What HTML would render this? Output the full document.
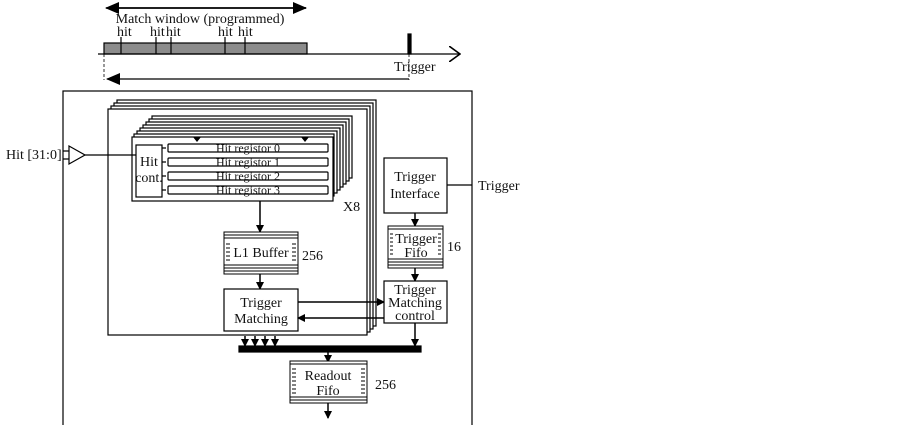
<!DOCTYPE html>
<html><head><meta charset="utf-8"><style>
body{margin:0;background:#fff}
svg{display:block}
text{font-family:"Liberation Serif",serif;fill:#111}
</style></head><body>
<svg width="902" height="425" viewBox="0 0 902 425" xmlns="http://www.w3.org/2000/svg">
<defs>
<marker id="a" markerWidth="8" markerHeight="8" refX="7" refY="4" orient="auto" markerUnits="userSpaceOnUse"><path d="M0,0 L8,4 L0,8 Z" fill="#000"/></marker>
<marker id="big" markerWidth="14" markerHeight="12" refX="13" refY="6" orient="auto" markerUnits="userSpaceOnUse"><path d="M0,0 L14,6 L0,12 Z" fill="#000"/></marker>
<marker id="open" markerWidth="12" markerHeight="16" refX="11" refY="8" orient="auto" markerUnits="userSpaceOnUse"><path d="M0,0 L11,8 L0,16" fill="none" stroke="#000" stroke-width="1.6"/></marker>
</defs>
<g stroke="#000" fill="none" stroke-width="1.2">
<line x1="108" y1="8" x2="306" y2="8" marker-end="url(#big)" stroke-width="1.5"/>
<line x1="306" y1="8" x2="106" y2="8" marker-end="url(#big)" stroke-width="1.5"/>
<rect x="104" y="43" width="203" height="11" fill="#8c8c8c"/>
<line x1="121" y1="37" x2="121" y2="54"/><line x1="156" y1="37" x2="156" y2="54"/><line x1="171" y1="37" x2="171" y2="54"/><line x1="225" y1="37" x2="225" y2="54"/><line x1="245" y1="37" x2="245" y2="54"/>
<line x1="98" y1="54" x2="460" y2="54" marker-end="url(#open)"/>
<rect x="408" y="34" width="3" height="20" fill="#000"/>
<line x1="104" y1="54" x2="104" y2="80" stroke-dasharray="3,2" stroke-width="0.8"/>
<line x1="409" y1="54" x2="409" y2="80" stroke-dasharray="3,2" stroke-width="0.8"/>
<line x1="409" y1="79" x2="107" y2="79" marker-end="url(#big)"/>
<rect x="63" y="91" width="409" height="340"/>
<rect x="117" y="100" width="259" height="226" fill="#fff"/>
<rect x="114" y="103" width="259" height="226" fill="#fff"/>
<rect x="111" y="106" width="259" height="226" fill="#fff"/>
<rect x="108" y="109" width="259" height="226" fill="#fff"/>
<rect x="152" y="116" width="200" height="62" fill="#fff"/>
<rect x="149" y="119" width="200" height="62" fill="#fff"/>
<rect x="146" y="122" width="200" height="62" fill="#fff"/>
<rect x="143" y="125" width="200" height="62" fill="#fff"/>
<rect x="140" y="128" width="200" height="62" fill="#fff"/>
<rect x="137" y="131" width="200" height="62" fill="#fff"/>
<rect x="134" y="134" width="200" height="62" fill="#fff"/>
<rect x="132" y="137" width="201" height="64" fill="#fff"/>
<rect x="136" y="145" width="26" height="52"/>
<rect x="168" y="144" width="160" height="8" rx="1"/>
<rect x="168" y="158" width="160" height="8" rx="1"/>
<rect x="168" y="172" width="160" height="8" rx="1"/>
<rect x="168" y="186" width="160" height="8" rx="1"/>
<path d="M162,148 h4 M162,162 h4 M162,176 h4 M162,190 h4"/>
<path d="M69,146 L85,155 L69,164 Z" fill="#fff"/>
<path d="M63,151 h6 M63,159 h6"/>
<line x1="85" y1="155" x2="136" y2="155"/>
<line x1="260" y1="201" x2="260" y2="232" marker-end="url(#a)" stroke-width="1.5"/>
<line x1="260" y1="274" x2="260" y2="289" marker-end="url(#a)" stroke-width="1.5"/>
<rect x="224" y="289" width="74" height="42" fill="#fff"/>
<line x1="298" y1="302" x2="384" y2="302" marker-end="url(#a)" stroke-width="1.5"/>
<line x1="384" y1="318" x2="298" y2="318" marker-end="url(#a)" stroke-width="1.5"/>
<rect x="384" y="158" width="63" height="55" fill="#fff"/>
<line x1="447" y1="185" x2="472" y2="185"/>
<line x1="415" y1="213" x2="415" y2="226" marker-end="url(#a)" stroke-width="1.5"/>
<line x1="415" y1="268" x2="415" y2="281" marker-end="url(#a)" stroke-width="1.5"/>
<rect x="384" y="281" width="63" height="42" fill="#fff"/>
<line x1="415" y1="323" x2="415" y2="346" marker-end="url(#a)" stroke-width="1.5"/>
<rect x="239" y="346" width="182" height="6" fill="#000"/>
<line x1="245" y1="336" x2="245" y2="346" marker-end="url(#a)" stroke-width="1.5"/>
<line x1="255" y1="336" x2="255" y2="346" marker-end="url(#a)" stroke-width="1.5"/>
<line x1="265" y1="336" x2="265" y2="346" marker-end="url(#a)" stroke-width="1.5"/>
<line x1="275" y1="336" x2="275" y2="346" marker-end="url(#a)" stroke-width="1.5"/>
<line x1="328" y1="352" x2="328" y2="362" marker-end="url(#a)" stroke-width="1.5"/>
<line x1="328" y1="403" x2="328" y2="418" marker-end="url(#a)" stroke-width="1.5"/>
</g>
<polygon points="193,137 201,137 197,142" fill="#000"/>
<polygon points="301,137 309,137 305,142" fill="#000"/>
<g stroke="#000" stroke-width="1" fill="none">
<rect x="224" y="232" width="74" height="42" fill="#fff"/>
<path d="M224,235 h74 M224,238 h74 M224,265 h74 M224,268 h74 M224,271 h74"/>
<path d="M226,244 h4 M226,248 h4 M226,252 h4 M226,256 h4 M226,260 h4 M292,244 h4 M292,248 h4 M292,252 h4 M292,256 h4 M292,260 h4"/>
<rect x="388" y="226" width="55" height="42" fill="#fff"/>
<path d="M388,229 h55 M388,259 h55 M388,262 h55 M388,265 h55"/>
<path d="M390,234 h3 M390,238 h3 M390,242 h3 M390,246 h3 M390,250 h3 M390,254 h3 M438,234 h3 M438,238 h3 M438,242 h3 M438,246 h3 M438,250 h3 M438,254 h3"/>
<rect x="290" y="361" width="77" height="42" fill="#fff"/>
<path d="M290,364 h77 M290,397 h77 M290,400 h77"/>
<path d="M292,369 h4 M292,373 h4 M292,377 h4 M292,381 h4 M292,385 h4 M292,389 h4 M292,393 h4 M361,369 h4 M361,373 h4 M361,377 h4 M361,381 h4 M361,385 h4 M361,389 h4 M361,393 h4"/>
</g>
<g font-size="14">
<text x="200" y="23" text-anchor="middle">Match window (programmed)</text>
<text x="117" y="36">hit</text><text x="150" y="36">hit</text><text x="166" y="36">hit</text><text x="218" y="36">hit</text><text x="238" y="36">hit</text>
<text x="394" y="71">Trigger</text>
<text x="6" y="159">Hit [31:0]</text>
<text x="149" y="166" text-anchor="middle">Hit</text>
<text x="149" y="182" text-anchor="middle">cont.</text>
<text x="248" y="152" text-anchor="middle" font-size="12">Hit registor 0</text>
<text x="248" y="166" text-anchor="middle" font-size="12">Hit registor 1</text>
<text x="248" y="180" text-anchor="middle" font-size="12">Hit registor 2</text>
<text x="248" y="194" text-anchor="middle" font-size="12">Hit registor 3</text>
<text x="343" y="211">X8</text>
<text x="261" y="257" text-anchor="middle">L1 Buffer</text>
<text x="302" y="260">256</text>
<text x="261" y="307" text-anchor="middle">Trigger</text>
<text x="261" y="323" text-anchor="middle">Matching</text>
<text x="415" y="181" text-anchor="middle">Trigger</text>
<text x="415" y="198" text-anchor="middle">Interface</text>
<text x="478" y="190">Trigger</text>
<text x="416" y="243" text-anchor="middle">Trigger</text>
<text x="416" y="257" text-anchor="middle">Fifo</text>
<text x="447" y="251">16</text>
<text x="415" y="294" text-anchor="middle">Trigger</text>
<text x="415" y="307" text-anchor="middle">Matching</text>
<text x="415" y="320" text-anchor="middle">control</text>
<text x="328" y="380" text-anchor="middle">Readout</text>
<text x="328" y="395" text-anchor="middle">Fifo</text>
<text x="375" y="389">256</text>
</g>
</svg>
</body></html>
